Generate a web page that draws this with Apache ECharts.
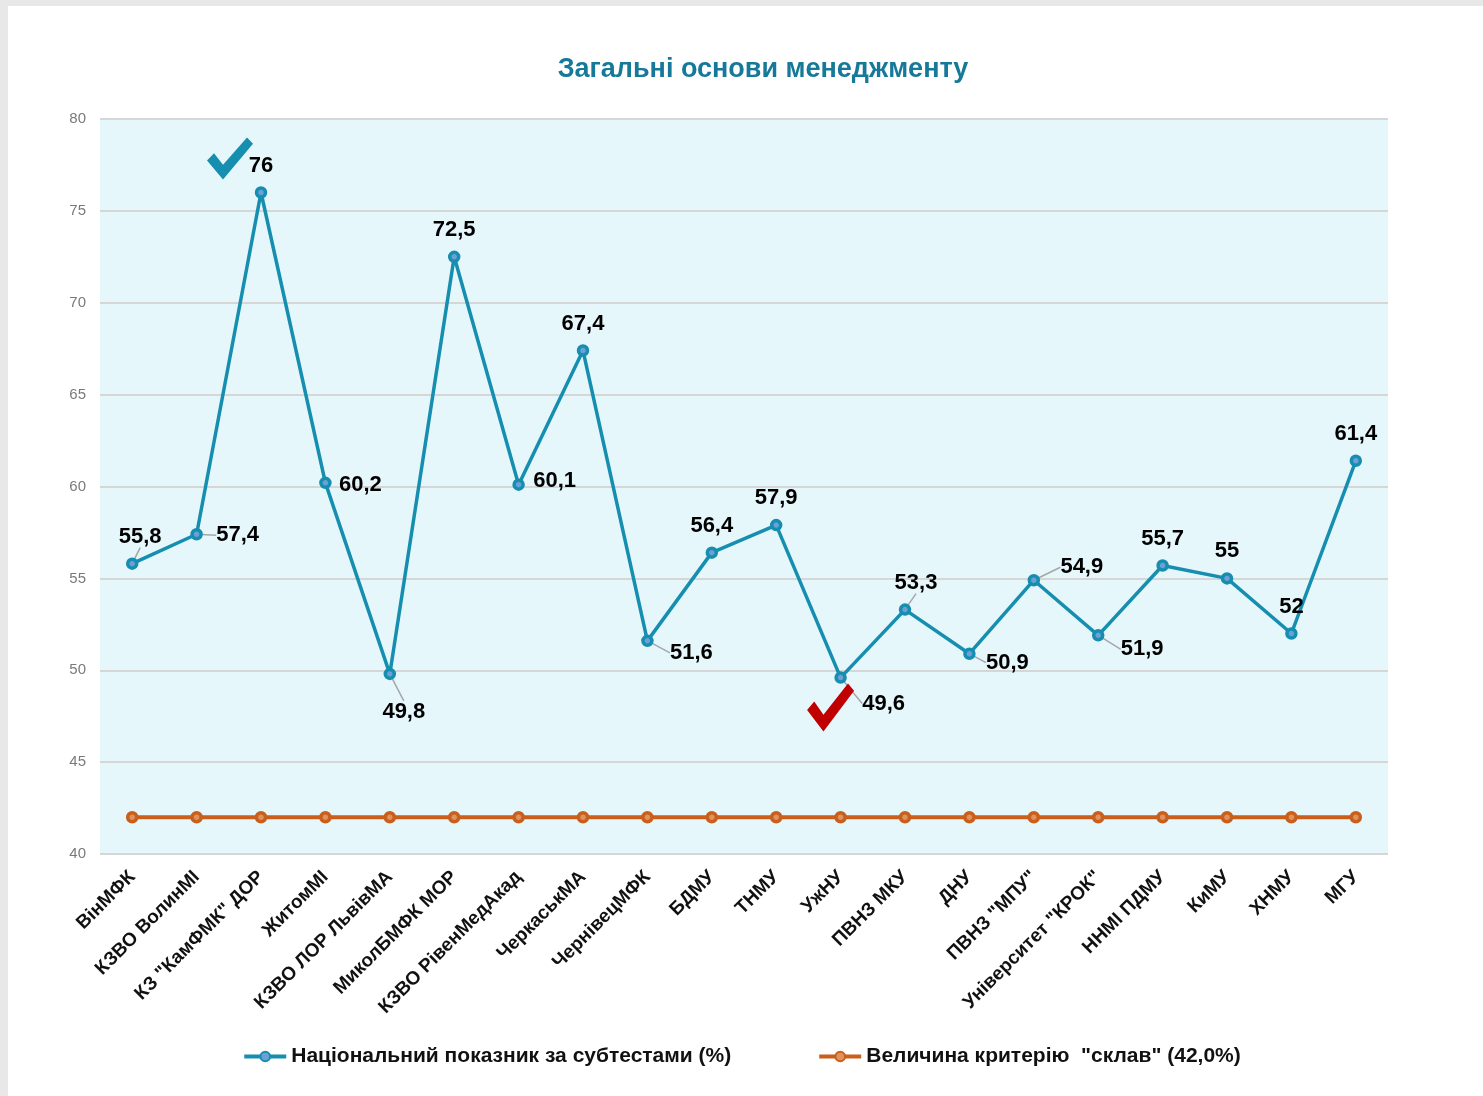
<!DOCTYPE html>
<html>
<head>
<meta charset="utf-8">
<script src="https://cdn.jsdelivr.net/npm/echarts@6/dist/echarts.min.js"></script>
<style>
  html, body { margin: 0; padding: 0; background: #e8e8e8; }
  #card { position: absolute; left: 8px; top: 6px; right: 0; bottom: 0; background: #fff; }
  #chart { position: absolute; left: 0; top: 0; width: 1483px; height: 1096px; }
</style>
</head>
<body>
<div id="card"></div>
<div id="chart"></div>
<script>
// categories (institutions)
const categories = [
  'ВінМФК', 'КЗВО ВолинМІ', 'КЗ "КамФМК" ДОР', 'ЖитомМІ', 'КЗВО ЛОР ЛьвівМА',
  'МиколБМФК МОР', 'КЗВО РівенМедАкад', 'ЧеркаськМА', 'ЧернівецМФК', 'БДМУ',
  'ТНМУ', 'УжНУ', 'ПВНЗ МКУ', 'ДНУ', 'ПВНЗ "МПУ"', 'Університет "КРОК"',
  'ННМІ ПДМУ', 'КиМУ', 'ХНМУ', 'МГУ'
];
// national indicator by subtests, %
const nationalValues = [55.8, 57.4, 76, 60.2, 49.8, 72.5, 60.1, 67.4, 51.6, 56.4,
  57.9, 49.6, 53.3, 50.9, 54.9, 51.9, 55.7, 55, 52, 61.4];
// "pass" criterion, %
const thresholdValues = categories.map(() => 42.0);
const yTicks = { min: 40, max: 80, step: 5 };
const seriesNames = ['Національний показник за субтестами (%)', 'Величина критерію  "склав" (42,0%)'];
const bestIndex = 2;
const worstIndex = 11;

// label placement relative to the point centre (layout, not data)
const LABEL_OFFSETS = [
  [8, -27], [41, 1], [0, -27], [35, 2], [14, 38], [0, -27], [36, -4], [0, -27],
  [44, 12], [0, -27], [0, -27], [43, 26], [11, -27], [38, 9], [48, -13], [44, 14],
  [0, -27], [0, -27], [0, -27], [0, -27]
];
const LEADER = new Set([0, 1, 4, 8, 11, 12, 13, 14, 15]);

const BLUE = '#168eb0';
const ORANGE = '#c95f1b';
const FONT = 'Liberation Sans, Arial, sans-serif';
const CHECK = 'path://M0,22 L7,15 L16,26 L40,0 L46,6 L16,40 Z';

const chart = echarts.init(document.getElementById('chart'));

const option = {
  textStyle: { fontFamily: FONT },
  title: {
    text: 'Загальні основи менеджменту',
    left: 758,
    top: 51,
    textAlign: 'center',
    textStyle: { color: '#17799a', fontSize: 27, fontWeight: 'bold', fontFamily: FONT }
  },
  grid: {
    left: 100, right: 95, top: 119, bottom: 242,
    show: true, backgroundColor: '#e6f7fc', borderWidth: 0
  },
  legend: {
    bottom: 24,
    left: 'center',
    itemGap: 86,
    itemWidth: 42,
    itemHeight: 12,
    lineStyle: { width: 4 },
    textStyle: { fontSize: 21, fontWeight: 'bold', color: '#111', fontFamily: FONT },
    data: seriesNames
  },
  xAxis: {
    type: 'category',
    data: categories,
    boundaryGap: true,
    axisLine: { show: false },
    axisTick: { show: false },
    axisLabel: {
      rotate: 45, interval: 0, margin: 20,
      color: '#111', fontSize: 19, fontWeight: 'bold', fontFamily: FONT
    }
  },
  yAxis: {
    type: 'value',
    min: yTicks.min, max: yTicks.max, interval: yTicks.step,
    axisLine: { show: false },
    axisTick: { show: false },
    axisLabel: { color: '#7a7a7a', fontSize: 15, margin: 14 },
    splitLine: { lineStyle: { color: '#d6d6d6', width: 2 } }
  },
  series: [
    {
      name: seriesNames[0],
      type: 'line',
      data: nationalValues.map((v, i) => ({
        value: v,
        labelLine: { show: LEADER.has(i) }
      })),
      z: 3,
      symbol: 'circle',
      symbolSize: 9,
      lineStyle: { color: BLUE, width: 3.5 },
      itemStyle: { color: '#6f9fd6', borderColor: BLUE, borderWidth: 3.5 },
      label: {
        show: true,
        position: 'inside',
        color: '#000',
        fontSize: 22,
        fontWeight: 'bold',
        fontFamily: FONT,
        formatter: (p) => String(p.value).replace('.', ',')
      },
      labelLine: { lineStyle: { color: '#a6a6a6', width: 1.5 }, length2: 0 },
      labelLayout: (p) => {
        const o = LABEL_OFFSETS[p.dataIndex];
        const cx = p.rect.x + p.rect.width / 2;
        const cy = p.rect.y + p.rect.height / 2;
        return { x: cx + o[0], y: cy + o[1], align: 'center', verticalAlign: 'middle' };
      },
      markPoint: {
        silent: true,
        label: { show: false },
        data: [
          {
            coord: [bestIndex, nationalValues[bestIndex]],
            symbol: CHECK, symbolSize: [46, 42], symbolOffset: [-31, -34],
            itemStyle: { color: BLUE, borderWidth: 0 }
          },
          {
            coord: [worstIndex, nationalValues[worstIndex]],
            symbol: CHECK, symbolSize: [47, 48], symbolOffset: [-10, 30],
            itemStyle: { color: '#c00000', borderWidth: 0 }
          }
        ]
      }
    },
    {
      name: seriesNames[1],
      type: 'line',
      data: thresholdValues,
      symbol: 'circle',
      symbolSize: 9,
      lineStyle: { color: ORANGE, width: 4 },
      itemStyle: { color: '#e0925e', borderColor: ORANGE, borderWidth: 3.5 }
    }
  ]
};

chart.setOption(option);
</script>
</body>
</html>
